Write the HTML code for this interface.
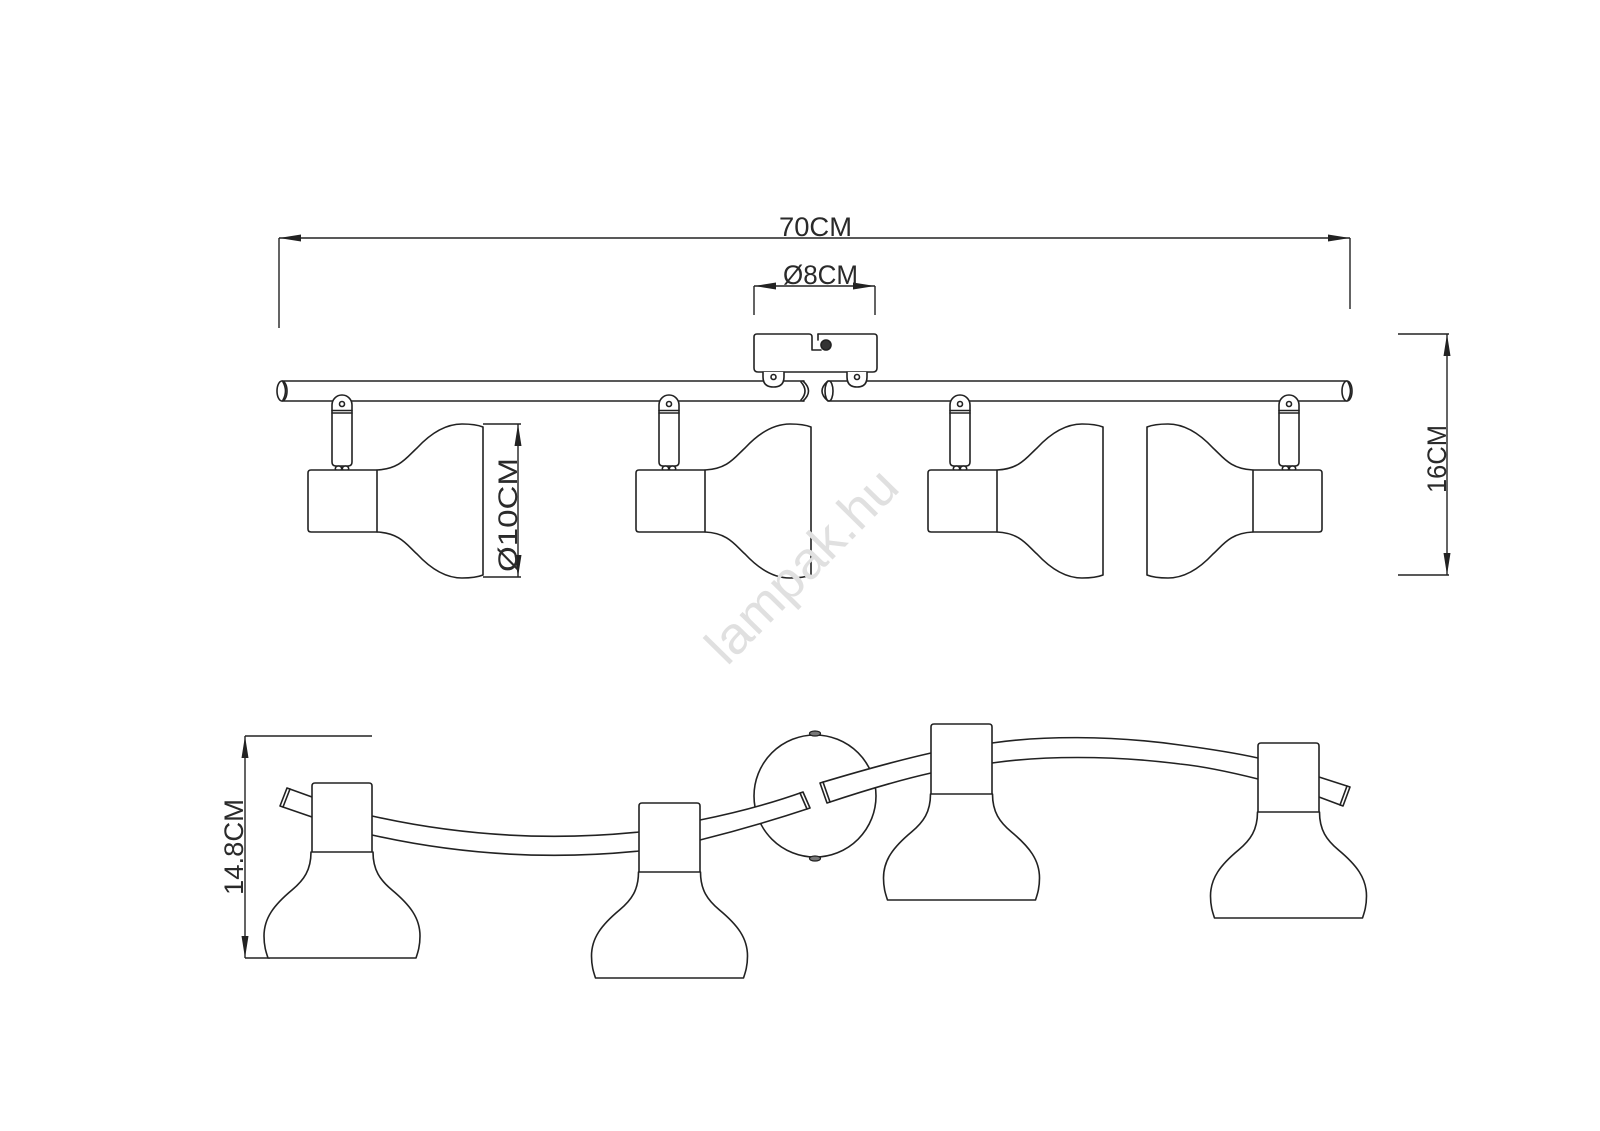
<!DOCTYPE html>
<html><head><meta charset="utf-8">
<style>
html,body{margin:0;padding:0;background:#fff;}
svg{display:block;}
</style></head><body>
<svg width="1600" height="1131" viewBox="0 0 1600 1131" xmlns="http://www.w3.org/2000/svg">
<rect width="1600" height="1131" fill="#fff"/>

<!-- ============ TOP VIEW ============ -->
<!-- dimension lines -->
<g stroke="#222" stroke-width="1.4" fill="none">
  <line x1="279" y1="238" x2="1350" y2="238"/>
  <line x1="279" y1="238" x2="279" y2="328"/>
  <line x1="1350" y1="238" x2="1350" y2="309"/>
  <line x1="754" y1="286" x2="875" y2="286"/>
  <line x1="754" y1="286" x2="754" y2="315"/>
  <line x1="875" y1="286" x2="875" y2="315"/>
  <!-- 10CM -->
  <line x1="483" y1="424" x2="521" y2="424"/>
  <line x1="483" y1="577" x2="521" y2="577"/>
  <line x1="518" y1="424" x2="518" y2="577"/>
  <!-- 16CM -->
  <line x1="1398" y1="334" x2="1449" y2="334"/>
  <line x1="1398" y1="575" x2="1449" y2="575"/>
  <line x1="1447" y1="334" x2="1447" y2="575"/>
  <!-- 14.8CM -->
  <line x1="245" y1="736" x2="372" y2="736"/>
  <line x1="245" y1="958" x2="270" y2="958"/>
  <line x1="245" y1="736" x2="245" y2="958"/>
</g>
<g fill="#222" stroke="none">
  <polygon points="279,238 301,234.5 301,241.5"/>
  <polygon points="1350,238 1328,234.5 1328,241.5"/>
  <polygon points="754,286 776,282.5 776,289.5"/>
  <polygon points="875,286 853,282.5 853,289.5"/>
  <polygon points="518,424 514.5,446 521.5,446"/>
  <polygon points="518,577 514.5,555 521.5,555"/>
  <polygon points="1447,334 1443.5,356 1450.5,356"/>
  <polygon points="1447,575 1443.5,553 1450.5,553"/>
  <polygon points="245,736 241.5,758 248.5,758"/>
  <polygon points="245,958 241.5,936 248.5,936"/>
</g>

<!-- dimension texts -->
<g font-family="'Liberation Sans', 'DejaVu Sans', sans-serif" font-size="27" fill="#2a2a2a">
  <text x="779" y="236" textLength="73" lengthAdjust="spacingAndGlyphs">70CM</text>
  <text x="783" y="284" textLength="75" lengthAdjust="spacingAndGlyphs">Ø8CM</text>
  <text transform="translate(517,572) rotate(-90)" textLength="114" lengthAdjust="spacingAndGlyphs">Ø10CM</text>
  <text transform="translate(1446,493) rotate(-90)" textLength="68" lengthAdjust="spacingAndGlyphs">16CM</text>
  <text transform="translate(243,895) rotate(-90)" textLength="96" lengthAdjust="spacingAndGlyphs">14.8CM</text>
</g>

<g fill="#fff" stroke="#222" stroke-width="1.6" stroke-linejoin="round" stroke-linecap="round">
  <!-- canopy (top view) -->
  <path d="M818,334 L874,334 Q877,334 877,337 L877,368 Q877,372 873,372 L758,372 Q754,372 754,368 L754,337 Q754,334 757,334 L809,334 Q812,334 812,337 L812,350 L821,350"/>
  <path d="M818,334 L818,340" fill="none"/>
  <circle cx="826" cy="345" r="5" fill="#333"/>

  <!-- bars -->
  <line x1="282" y1="381" x2="804" y2="381"/>
  <line x1="282" y1="401" x2="804" y2="401"/>
  <ellipse cx="282" cy="391" rx="5" ry="10"/>
  <path d="M283,382 Q288,391 283,400" fill="none"/>
  <path d="M803,381 Q814,391 803,401" fill="none"/>
  <path d="M801,382 Q809,391 801,400" fill="none"/>

  <line x1="829" y1="381" x2="1347" y2="381"/>
  <line x1="829" y1="401" x2="1347" y2="401"/>
  <path d="M828,381 Q816,391 828,401" fill="none"/>
  <ellipse cx="829" cy="391" rx="4" ry="10"/>
  <ellipse cx="1347" cy="391" rx="5" ry="10"/>
  <path d="M1348,382 Q1353,391 1348,400" fill="none"/>

  <!-- lugs -->
  <path d="M763,372 L763,377 Q763,387 773.5,387 Q784,387 784,377 L784,372"/>
  <circle cx="773.5" cy="377" r="2.5"/>
  <path d="M847,372 L847,377 Q847,387 857,387 Q867,387 867,377 L867,372"/>
  <circle cx="857" cy="377" r="2.5"/>

  <!-- mounts -->
  <g>
    <path d="M332,462 L332,405 A10,10 0 0 1 352,405 L352,462 Q352,466 348,466 L336,466 Q332,466 332,462 Z"/>
    <circle cx="342" cy="404" r="2.5"/>
    <line x1="332" y1="410.5" x2="352" y2="410.5"/><line x1="332" y1="413" x2="352" y2="413"/>
    <ellipse cx="338.5" cy="468.5" rx="3.2" ry="2.5"/><ellipse cx="345.5" cy="468.5" rx="3.2" ry="2.5"/>
  </g>
  <g>
    <path d="M659,462 L659,405 A10,10 0 0 1 679,405 L679,462 Q679,466 675,466 L663,466 Q659,466 659,462 Z"/>
    <circle cx="669" cy="404" r="2.5"/>
    <line x1="659" y1="410.5" x2="679" y2="410.5"/><line x1="659" y1="413" x2="679" y2="413"/>
    <ellipse cx="665.5" cy="468.5" rx="3.2" ry="2.5"/><ellipse cx="672.5" cy="468.5" rx="3.2" ry="2.5"/>
  </g>
  <g>
    <path d="M950,462 L950,405 A10,10 0 0 1 970,405 L970,462 Q970,466 966,466 L954,466 Q950,466 950,462 Z"/>
    <circle cx="960" cy="404" r="2.5"/>
    <line x1="950" y1="410.5" x2="970" y2="410.5"/><line x1="950" y1="413" x2="970" y2="413"/>
    <ellipse cx="956.5" cy="468.5" rx="3.2" ry="2.5"/><ellipse cx="963.5" cy="468.5" rx="3.2" ry="2.5"/>
  </g>
  <g>
    <path d="M1279,462 L1279,405 A10,10 0 0 1 1299,405 L1299,462 Q1299,466 1295,466 L1283,466 Q1279,466 1279,462 Z"/>
    <circle cx="1289" cy="404" r="2.5"/>
    <line x1="1279" y1="410.5" x2="1299" y2="410.5"/><line x1="1279" y1="413" x2="1299" y2="413"/>
    <ellipse cx="1285.5" cy="468.5" rx="3.2" ry="2.5"/><ellipse cx="1292.5" cy="468.5" rx="3.2" ry="2.5"/>
  </g>

  <!-- spot boxes (top view) -->
  <path d="M377,470 L311,470 Q308,470 308,473 L308,529 Q308,532 311,532 L377,532 Z"/>
  <path d="M705,470 L639,470 Q636,470 636,473 L636,529 Q636,532 639,532 L705,532 Z"/>
  <path d="M997,470 L931,470 Q928,470 928,473 L928,529 Q928,532 931,532 L997,532 Z"/>
  <path d="M1253,470 L1319,470 Q1322,470 1322,473 L1322,529 Q1322,532 1319,532 L1253,532 Z"/>

  <!-- shades (top view) -->
  <path d="M377,470 C400,469 407,457 417,448 C430,434 445,424 462,424 C472,424 478,425 483,427 L483,575 C478,577 472,578 462,578 C445,578 430,568 417,554 C407,545 400,533 377,532" fill="none"/>
  <path d="M705,470 C728,469 735,457 745,448 C758,434 773,424 790,424 C800,424 806,425 811,427 L811,575 C806,577 800,578 790,578 C773,578 758,568 745,554 C735,545 728,533 705,532" fill="none"/>
  <path d="M997,470 C1020,469 1027,457 1037,448 C1050,434 1065,424 1082,424 C1092,424 1098,425 1103,427 L1103,575 C1098,577 1092,578 1082,578 C1065,578 1050,568 1037,554 C1027,545 1020,533 997,532" fill="none"/>
  <path d="M1253,470 C1230,469 1223,457 1213,448 C1200,434 1185,424 1168,424 C1158,424 1152,425 1147,427 L1147,575 C1152,577 1158,578 1168,578 C1185,578 1200,568 1213,554 C1223,545 1230,533 1253,532" fill="none"/>

  <!-- ============ FRONT VIEW ============ -->
  <circle cx="815" cy="796" r="61"/>

  <!-- arm segment 1 with stub A -->
  <path d="M287,788 L312,797 L372,816 C470,838 560,840 639,832 L700,820 C740,812 775,802 803,792 L810,808 C780,818 740,830 700,840 L639,851 C560,859 470,857 372,835 L312,817 L280,806 Z"/>
  <line x1="290" y1="789" x2="283" y2="807"/>
  <line x1="800" y1="793" x2="807" y2="809"/>

  <!-- arm segment 2 with stub D -->
  <path d="M820,783 C860,771 900,760 931,753 L992,743 C1040,736 1110,735 1180,745 C1210,749 1240,754 1258,758 L1319,777 L1350,787 L1343,806 L1319,797 L1258,779 C1230,772 1200,766 1180,764 C1110,755 1040,756 992,763 L931,773 C900,780 860,792 827,803 Z"/>
  <line x1="823" y1="782" x2="830" y2="802"/>
  <line x1="1347" y1="786" x2="1340" y2="805"/>

  <!-- shades front view (drawn before boxes) -->
  <path d="M311,852 C311,870 304,880 292,890 C274,905 264,918 264,936 C264,946 266,952 268,958 L416,958 C418,952 420,946 420,936 C420,918 410,905 392,890 C380,880 373,870 373,852"/>
  <path d="M638.5,872 C638.5,890 631.5,900 619.5,910 C601.5,925 591.5,938 591.5,956 C591.5,966 593.5,972 595.5,978 L743.5,978 C745.5,972 747.5,966 747.5,956 C747.5,938 737.5,925 719.5,910 C707.5,900 700.5,890 700.5,872"/>
  <path d="M930.5,794 C930.5,812 923.5,822 911.5,832 C893.5,847 883.5,860 883.5,878 C883.5,888 885.5,894 887.5,900 L1035.5,900 C1037.5,894 1039.5,888 1039.5,878 C1039.5,860 1029.5,847 1011.5,832 C999.5,822 992.5,812 992.5,794"/>
  <path d="M1257.5,812 C1257.5,830 1250.5,840 1238.5,850 C1220.5,865 1210.5,878 1210.5,896 C1210.5,906 1212.5,912 1214.5,918 L1362.5,918 C1364.5,912 1366.5,906 1366.5,896 C1366.5,878 1356.5,865 1338.5,850 C1326.5,840 1319.5,830 1319.5,812"/>

  <!-- boxes front view -->
  <path d="M312,852 L312,786 Q312,783 315,783 L369,783 Q372,783 372,786 L372,852 Z"/>
  <path d="M639,872 L639,806 Q639,803 642,803 L697,803 Q700,803 700,806 L700,872 Z"/>
  <path d="M931,794 L931,727 Q931,724 934,724 L989,724 Q992,724 992,727 L992,794 Z"/>
  <path d="M1258,812 L1258,746 Q1258,743 1261,743 L1316,743 Q1319,743 1319,746 L1319,812 Z"/>

  <!-- screws on canopy -->
  <ellipse cx="815" cy="733.5" rx="5.5" ry="2.5" fill="#777" stroke-width="1.2"/>
  <ellipse cx="815" cy="858.5" rx="5.5" ry="2.5" fill="#777" stroke-width="1.2"/>
</g>

<!-- watermark -->
<text transform="translate(727,667) rotate(-45.5)" font-family="'Liberation Sans', 'DejaVu Sans', sans-serif" font-size="52" fill="#e0e0e0" textLength="249" lengthAdjust="spacingAndGlyphs">lampak.hu</text>
</svg>
</body></html>
